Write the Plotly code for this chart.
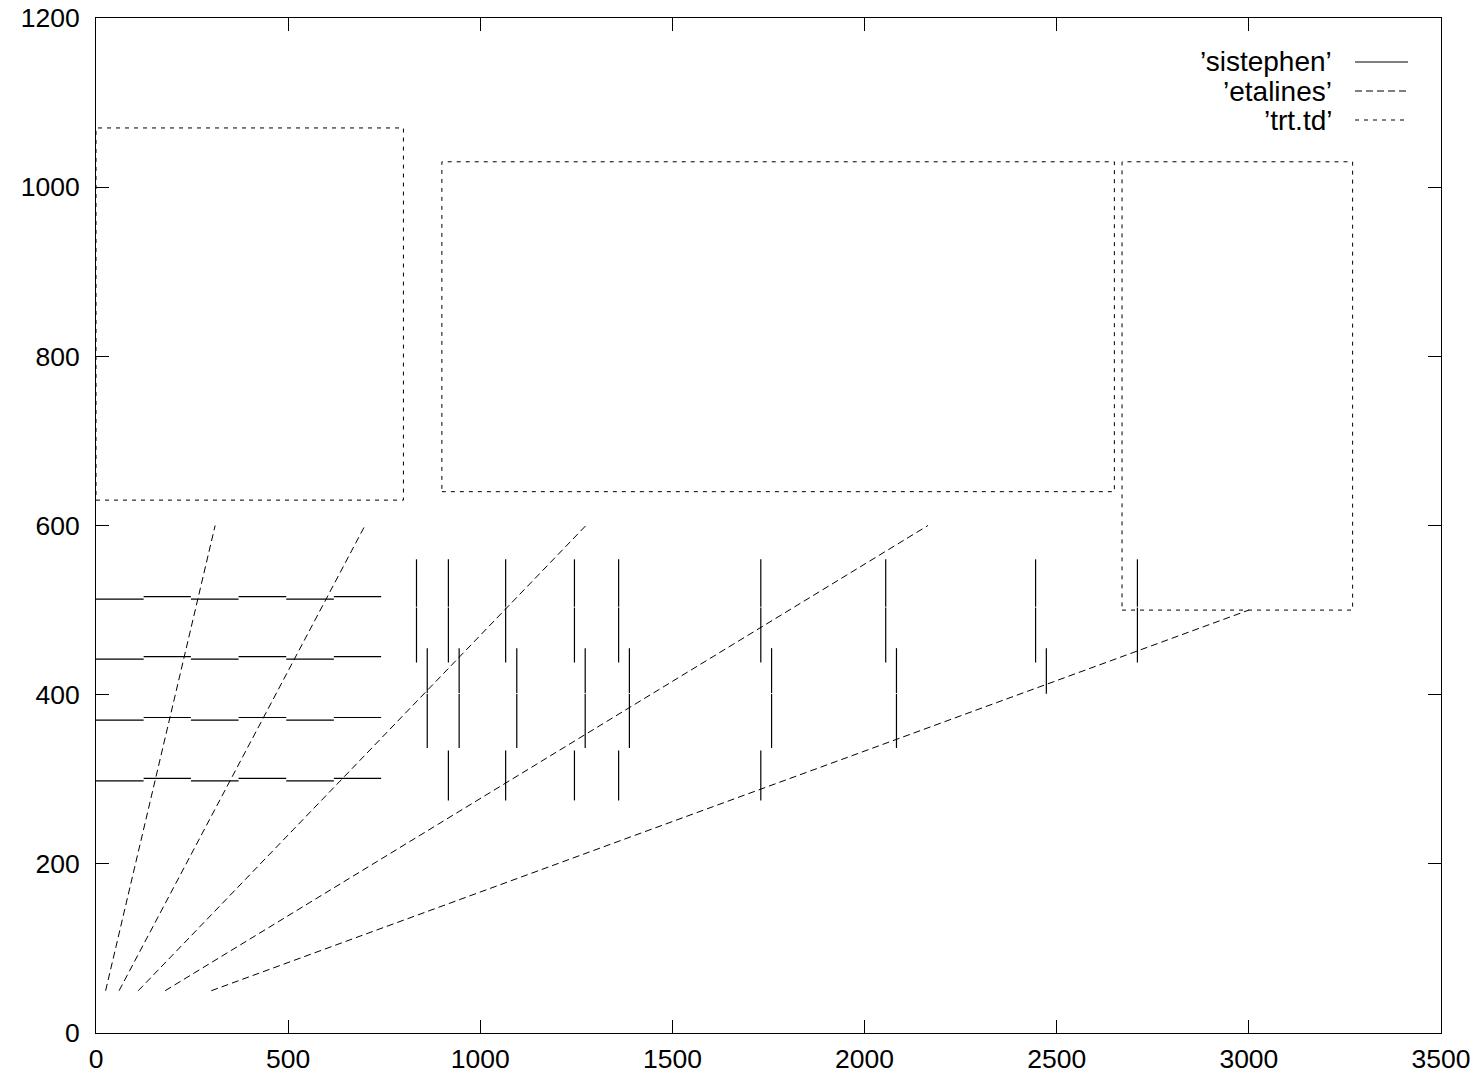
import plotly.graph_objects as go

# ---------------- data ----------------
# 'sistephen' horizontal rows: alternating segments at base y and base y + step
row_base_y = [298, 370, 442, 513]
row_step = 3
row_seg_x = [0, 124, 247, 371, 495, 619, 742]

# 'sistephen' vertical bars
top_bar_x = [834, 917, 1066, 1245, 1360, 1730, 2055, 2445, 2710]
top_bar_y = [438, 503, 560]
mid_bar_x = [862, 945, 1095, 1273, 1388, 1758, 2083]
mid_bar_y = [337, 401, 455]
mid_half_bar_x = [2473]
mid_half_bar_y = [401, 455]
bot_bar_x = [917, 1066, 1245, 1360, 1730]
bot_bar_y = [275, 334]

# 'etalines' straight lines
eta_x0 = [25, 60, 110, 180, 300]
eta_y0 = [50, 50, 50, 50, 50]
eta_x1 = [310, 700, 1275, 2165, 3000]
eta_y1 = [600, 600, 600, 600, 500]

# 'trt.td' rectangles
rect_x0 = [0, 900, 2670]
rect_x1 = [800, 2650, 3270]
rect_y0 = [630, 640, 500]
rect_y1 = [1070, 1030, 1030]

x_ticks = [0, 500, 1000, 1500, 2000, 2500, 3000, 3500]
y_ticks = [0, 200, 400, 600, 800, 1000, 1200]

legend_labels = ["\u2019sistephen\u2019", "\u2019etalines\u2019", "\u2019trt.td\u2019"]

# ---------------- build traces ----------------
sx, sy = [], []
for yb in row_base_y:
    for i in range(len(row_seg_x) - 1):
        yy = yb + (row_step if i % 2 == 1 else 0)
        sx += [row_seg_x[i], row_seg_x[i + 1], None]
        sy += [yy, yy, None]
for xs, ys in [(top_bar_x, top_bar_y), (mid_bar_x, mid_bar_y),
               (mid_half_bar_x, mid_half_bar_y), (bot_bar_x, bot_bar_y)]:
    for x in xs:
        for j in range(len(ys) - 1):
            sx += [x, x, None]
            sy += [ys[j] + (1 if j > 0 else 0), ys[j + 1], None]

ex, ey = [], []
for a, b, c, d in zip(eta_x0, eta_y0, eta_x1, eta_y1):
    ex += [a, c, None]
    ey += [b, d, None]

rx, ry = [], []
for a, b, c, d in zip(rect_x0, rect_x1, rect_y0, rect_y1):
    rx += [a, b, b, a, a, None]
    ry += [c, c, d, d, c, None]

fig = go.Figure()
fig.add_trace(go.Scatter(x=sx, y=sy, mode="lines", name=legend_labels[0],
                         line=dict(color="black", width=1.2), connectgaps=False))
fig.add_trace(go.Scatter(x=ex, y=ey, mode="lines", name=legend_labels[1],
                         line=dict(color="black", width=1, dash="7px,4px"), connectgaps=False))
fig.add_trace(go.Scatter(x=rx, y=ry, mode="lines", name=legend_labels[2],
                         line=dict(color="black", width=1, dash="4px,5px"), connectgaps=False))

# ---------------- layout (screen pixels) ----------------
L, R, T, B = 96, 1441, 18, 1033          # plot area on screen
W, H = 1484, 1079                        # figure size

def px2paper_x(px):
    return (px - L) / (R - L)
def px2paper_y(py):
    return (B - py) / (B - T)

key_rows_py = [62, 91, 120]
key_text_right = 1334
key_line = (1355, 1408)
key_dashes = ["solid", "7px,4px", "4px,5px"]
font_family = "Liberation Sans, Arial, Helvetica, sans-serif"
for lab, py, dsh in zip(legend_labels, key_rows_py, key_dashes):
    fig.add_annotation(x=px2paper_x(key_text_right), y=px2paper_y(py), xref="paper", yref="paper",
                       text=lab, showarrow=False, xanchor="right", yanchor="middle",
                       font=dict(family=font_family, size=28, color="black"))
    fig.add_shape(type="line", xref="paper", yref="paper",
                  x0=px2paper_x(key_line[0]), x1=px2paper_x(key_line[1]),
                  y0=px2paper_y(py), y1=px2paper_y(py),
                  line=dict(color="black", width=1, dash=dsh))

axis_common = dict(showgrid=False, zeroline=False, showline=True, linecolor="black",
                   linewidth=1, ticks="inside", ticklen=13, tickcolor="black",
                   tickwidth=1, mirror="ticks", automargin=False,
                   tickfont=dict(family=font_family, size=26.5, color="black"))

fig.update_layout(
    width=W, height=H,
    margin=dict(l=L, r=W - R, t=T, b=H - B),
    paper_bgcolor="white", plot_bgcolor="white",
    showlegend=False,
    xaxis=dict(range=[0, 3500], tickvals=x_ticks, ticktext=[str(v) for v in x_ticks],
               ticklabelstandoff=2, **axis_common),
    yaxis=dict(range=[0, 1200], tickvals=y_ticks, ticktext=[str(v) for v in y_ticks],
               ticklabelstandoff=10, **axis_common),
)

fig.write_html(
    "out.html",
    config={"displayModeBar": False},
    post_script="document.body.style.margin='0';document.body.style.overflow='hidden';",
)
